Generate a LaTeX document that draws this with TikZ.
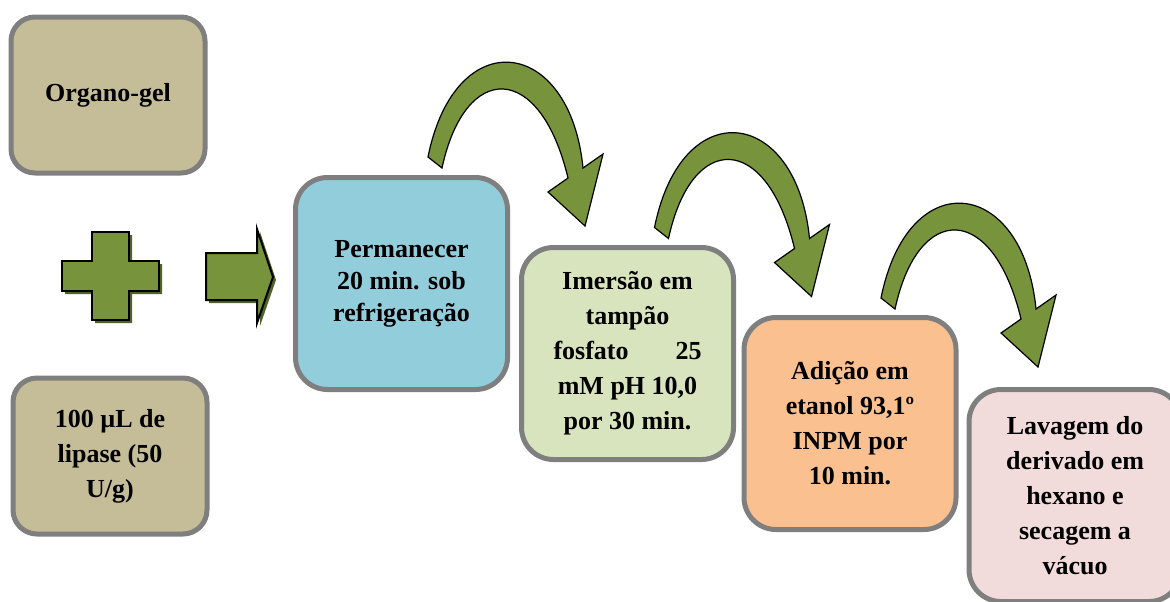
\documentclass[tikz,border=0pt]{standalone}
\usepackage{fontspec}
\setmainfont{Liberation Serif}

\definecolor{boxgray}{HTML}{7F7F7F}
\definecolor{gelTan}{HTML}{C4BD97}
\definecolor{coldBlue}{HTML}{92CDDC}
\definecolor{bufferGreen}{HTML}{D7E4BD}
\definecolor{ethOrange}{HTML}{FAC090}
\definecolor{washPink}{HTML}{F2DCDB}
\definecolor{arrowGreen}{HTML}{77933C}
\definecolor{shadowGreen}{HTML}{4F6228}

\begin{document}
\begin{tikzpicture}[x=.5pt,y=-.5pt,
  stepbox/.style={draw=boxgray,line width=2.5pt,align=center,inner sep=0pt,
    font=\bfseries\fontsize{13}{17.5}\selectfont},
  smallbox/.style={stepbox,rounded corners=12pt,minimum width=97pt,minimum height=78pt},
  bigbox/.style={stepbox,rounded corners=16pt,minimum width=106pt,minimum height=106pt},
  greenshape/.style={fill=arrowGreen,draw=black,line width=1pt},
  shadowshape/.style={fill=shadowGreen}]
\path[use as bounding box] (0,0) rectangle (1170,601);

% inputs
\node[smallbox,fill=gelTan] (gel) at (108,95) {Organo-gel};
\node[smallbox,fill=gelTan] (lipase) at (110,456) {100 µL de\\lipase (50\\U/g)};

% plus sign
\fill[shadowshape,shift={(3,3)}] (92,232)--(129,232)--(129,261)--(159,261)--(159,291)--(129,291)--(129,320)--(92,320)--(92,291)--(62,291)--(62,261)--(92,261)--cycle;
\draw[greenshape] (92,232)--(129,232)--(129,261)--(159,261)--(159,291)--(129,291)--(129,320)--(92,320)--(92,291)--(62,291)--(62,261)--(92,261)--cycle;

% block arrow
\fill[shadowshape,shift={(3,3)}] (206,253)--(257,253)--(257,229)--(273,277)--(257,323)--(257,300)--(206,300)--cycle;
\draw[greenshape] (206,253)--(257,253)--(257,229)--(273,277)--(257,323)--(257,300)--(206,300)--cycle;

% steps
\node[bigbox,fill=coldBlue,font=\bfseries\fontsize{13}{16}\selectfont] (perm) at (401.5,283.5)
  {Permanecer\\20 min. sob\\refrigeração};
\node[bigbox,fill=bufferGreen] (imers) at (627.5,353.5)
  {Imersão em\\tampão\\\makebox[74pt]{fosfato\hfill 25}\\mM pH 10,0\\por 30 min.};
\node[bigbox,fill=ethOrange] (adic) at (850,423.5) {Adição em\\etanol 93,1º\\INPM por\\10 min.};
\node[bigbox,fill=washPink] (lavag) at (1075,495.5) {Lavagem do\\derivado em\\hexano e\\secagem a\\vácuo};

% curved arrows between steps
\foreach \k in {0,1,2}{
  \draw[greenshape,line width=.6pt,shift={(\k*226.5,\k*70.5)}]
    (428,157) .. controls (455,22) and (570,36) .. (583,168)
    -- (603,154) -- (585,226) -- (548,192) -- (568,178)
    .. controls (540,61) and (465,61) .. (442,168) -- cycle;
}
\end{tikzpicture}
\end{document}
